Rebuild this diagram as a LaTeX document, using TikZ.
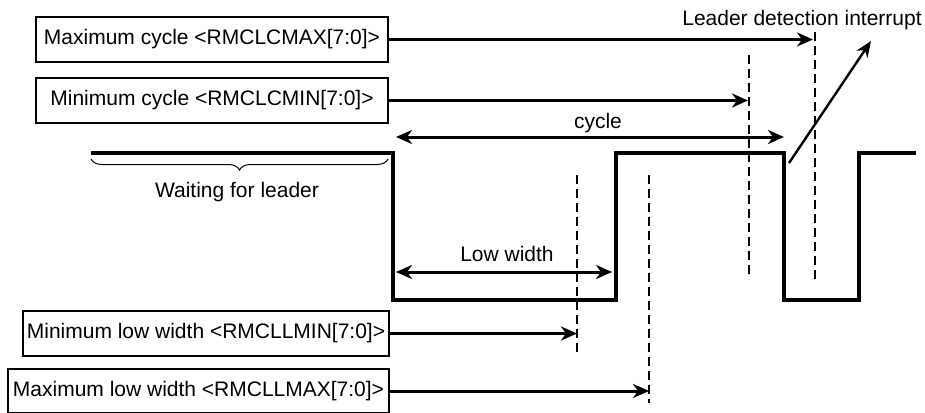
\documentclass[tikz,border=0pt]{standalone}
\usepackage{fontspec}
\setmainfont{Liberation Sans}
\usetikzlibrary{arrows.meta,decorations.pathreplacing}
\begin{document}
\begin{tikzpicture}[x=1pt,y=-1pt,
  font=\fontsize{21}{25}\selectfont,
  regbox/.style={draw,line width=1.2pt,inner sep=0pt,minimum height=45pt,anchor=center},
  sig/.style={line width=3.6pt,line join=miter},
  arr/.style={line width=3pt,-{Stealth[length=16pt,width=14pt,inset=5pt]}},
  darr/.style={line width=3pt,{Stealth[length=16pt,width=14pt,inset=5pt]}-{Stealth[length=16pt,width=14pt,inset=5pt]}},
  dline/.style={line width=2.6pt,dash pattern=on 9pt off 5pt},
  lbl/.style={inner sep=0pt}]
\useasboundingbox (0,0) rectangle (925,412);

% register boxes
\node[regbox,minimum width=352pt] (maxc) at (212,39.5) {Maximum cycle <RMCLCMAX[7:0]>};
\node[regbox,minimum width=352pt] (minc) at (212,100.5) {Minimum cycle <RMCLCMIN[7:0]>};
\node[regbox,minimum width=366pt] (minlw) at (206,333.5) {Minimum low width <RMCLLMIN[7:0]>};
\node[regbox,minimum width=381pt,minimum height=44pt] (maxlw) at (198.5,391) {Maximum low width <RMCLLMAX[7:0]>};

% signal
\draw[sig] (91,153) -- (393,153) -- (393,300) -- (616,300) -- (616,153)
  -- (784,153) -- (784,300) -- (859,300) -- (859,153) -- (916,153);

% dashed threshold lines
\coordinate (d1t) at (815,32);  \coordinate (d1b) at (815,279);
\coordinate (d2t) at (749,55);  \coordinate (d2b) at (749,279);
\coordinate (d3t) at (577,175); \coordinate (d3b) at (577,356);
\coordinate (d4t) at (649,175); \coordinate (d4b) at (649,403);
\draw[dline] (d1t) -- (d1b);
\draw[dline] (d2t) -- (d2b);
\draw[dline] (d3t) -- (d3b);
\draw[dline] (d4t) -- (d4b);

% arrows from registers
\coordinate (a1) at (813,39.5);
\coordinate (a2) at (748,100.5);
\coordinate (a3) at (577,333.5);
\coordinate (a4) at (649,391);
\draw[arr] (maxc.east) -- (a1);
\draw[arr] (minc.east) -- (a2);
\draw[arr] (minlw.east) -- (a3);
\draw[arr] (maxlw.east) -- (a4);

% cycle and low width
\coordinate (c1) at (396,137); \coordinate (c2) at (784,137);
\draw[darr] (c1) -- (c2);
\node[lbl] (cyc) at (598,123) {cycle};
\coordinate (l1) at (396,272); \coordinate (l2) at (612,272);
\draw[darr] (l1) -- (l2);
\node[lbl] (lw) at (507,254) {Low width};

% leader detection interrupt
\coordinate (i1) at (789,163); \coordinate (i2) at (871,41);
\draw[line width=2.4pt,-{Stealth[length=16pt,width=13pt,inset=5pt]}] (i1) -- (i2);
\node[lbl] (ldi) at (802,20) {Leader detection interrupt};

% waiting for leader brace
\coordinate (b1) at (91,159); \coordinate (b2) at (388,159);
\draw[line width=1pt,decorate,decoration={brace,mirror,amplitude=11pt}] (b1) -- (b2);
\node[lbl] (wait) at (237,192) {Waiting for leader};
\end{tikzpicture}
\end{document}
